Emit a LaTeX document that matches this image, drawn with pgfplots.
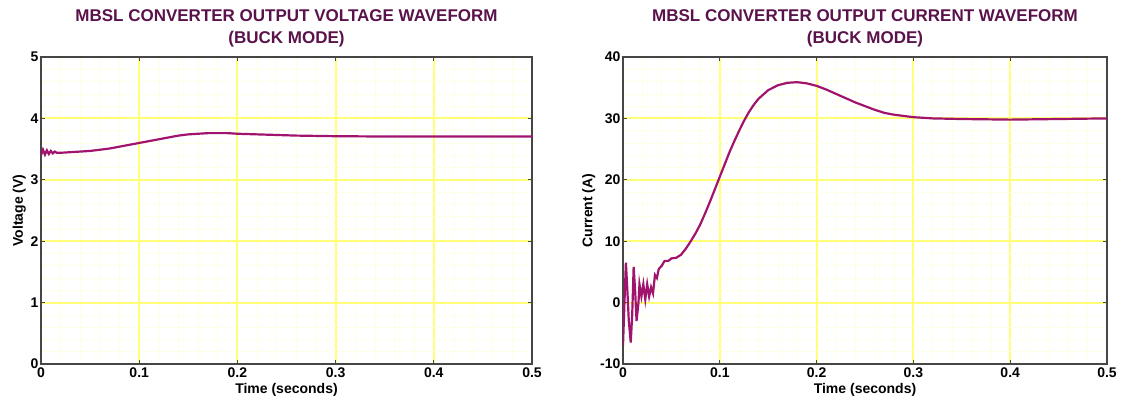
\documentclass[border=0pt]{standalone}
\usepackage{pgfplots}
\pgfplotsset{compat=1.18}
\usepackage{fontspec}
\setmainfont{Liberation Sans}
\definecolor{curve}{RGB}{160,20,110}
\definecolor{ttl}{RGB}{90,18,75}
\definecolor{frame}{RGB}{70,70,70}
\definecolor{grid}{RGB}{255,255,120}
\definecolor{mgrid}{RGB}{255,255,215}

\pgfplotstableread{
t v
0 3.40
0.002 3.49
0.004 3.41
0.006 3.48
0.008 3.42
0.010 3.47
0.012 3.43
0.014 3.46
0.016 3.44
0.02 3.44
0.03 3.45
0.04 3.46
0.05 3.47
0.06 3.49
0.07 3.51
0.08 3.54
0.09 3.57
0.10 3.60
0.11 3.63
0.12 3.66
0.13 3.69
0.14 3.72
0.15 3.74
0.16 3.75
0.17 3.76
0.18 3.76
0.19 3.76
0.20 3.75
0.22 3.74
0.24 3.73
0.26 3.72
0.28 3.715
0.30 3.71
0.35 3.705
0.40 3.705
0.45 3.705
0.50 3.705
}\voltdata

\pgfplotstableread{
t i
0 -7
0.0015 0
0.003 6.5
0.0045 2
0.006 -3
0.008 -6.5
0.0095 -2
0.011 5.8
0.0125 2
0.014 -3
0.016 0
0.017 3
0.019 1
0.021 3
0.023 0.5
0.025 3
0.027 1
0.029 2.5
0.031 1.5
0.033 4.5
0.035 4
0.037 5.5
0.04 6
0.043 6.8
0.047 6.8
0.05 7.2
0.055 7.3
0.06 7.8
0.065 8.8
0.07 10
0.075 11.3
0.08 12.8
0.085 14.6
0.09 16.5
0.095 18.5
0.1 20.5
0.105 22.5
0.11 24.5
0.115 26.3
0.12 28
0.125 29.6
0.13 31
0.135 32.2
0.14 33.2
0.15 34.6
0.16 35.4
0.17 35.8
0.18 35.9
0.19 35.7
0.2 35.3
0.21 34.7
0.22 34
0.23 33.3
0.24 32.6
0.25 32
0.26 31.4
0.27 30.9
0.28 30.6
0.29 30.4
0.3 30.2
0.32 30
0.35 29.9
0.4 29.8
0.45 29.9
0.5 30
}\currdata

\pgfplotsset{
  mystyle/.style={
    scale only axis,
    anchor=south west,
    xmin=0, xmax=0.5,
    xtick={0,0.1,0.2,0.3,0.4,0.5},
    xticklabels={0,0.1,0.2,0.3,0.4,0.5},
    minor xtick={0.02,0.04,0.06,0.08,0.12,0.14,0.16,0.18,0.22,0.24,0.26,0.28,0.32,0.34,0.36,0.38,0.42,0.44,0.46,0.48},
    grid=both,
    major grid style={draw=grid, line width=2pt, solid},
    minor grid style={draw=mgrid, line width=0.6pt, densely dotted},
    axis line style={draw=frame, line width=1.2pt},
    tick style={draw=frame, line width=1pt},
    minor tick length=0pt,
    major tick length=4pt,
    tick align=inside,
    ticklabel style={font=\fontsize{14}{16}\selectfont\bfseries},
    /pgf/number format/assume math mode=true,
    label style={font=\fontsize{14}{16}\selectfont\bfseries},
    title style={font=\fontsize{17}{22}\selectfont\bfseries, text=ttl, align=center, yshift=0pt},
    xlabel={Time (seconds)},
    xlabel style={yshift=1pt},
    ylabel style={yshift=-2pt},
    xticklabel style={yshift=0pt},
    yticklabel style={xshift=1pt},
  }
}

\begin{document}
\begin{tikzpicture}[x=1pt,y=1pt]
\path[use as bounding box] (0,0) rectangle (1127,408);
\begin{axis}[mystyle,
  at={(41pt,44pt)}, width=491pt, height=307pt,
  ymin=0, ymax=5, ytick={0,1,2,3,4,5},
  minor ytick={0.2,0.4,0.6,0.8,1.2,1.4,1.6,1.8,2.2,2.4,2.6,2.8,3.2,3.4,3.6,3.8,4.2,4.4,4.6,4.8},
  ylabel={Voltage (V)},
  title={MBSL CONVERTER OUTPUT VOLTAGE WAVEFORM\\(BUCK MODE)}]
\addplot[color=curve, line width=2.2pt, no marks] table[x=t,y=v]{\voltdata};
\end{axis}
\begin{axis}[mystyle,
  at={(623pt,44pt)}, width=484pt, height=307pt,
  ymin=-10, ymax=40, ytick={-10,0,10,20,30,40},
  minor ytick={-8,-6,-4,-2,2,4,6,8,12,14,16,18,22,24,26,28,32,34,36,38},
  ylabel={Current (A)},
  title={MBSL CONVERTER OUTPUT CURRENT WAVEFORM\\(BUCK MODE)}]
\addplot[color=curve, line width=2.2pt, no marks] table[x=t,y=i]{\currdata};
\end{axis}
\end{tikzpicture}
\end{document}
